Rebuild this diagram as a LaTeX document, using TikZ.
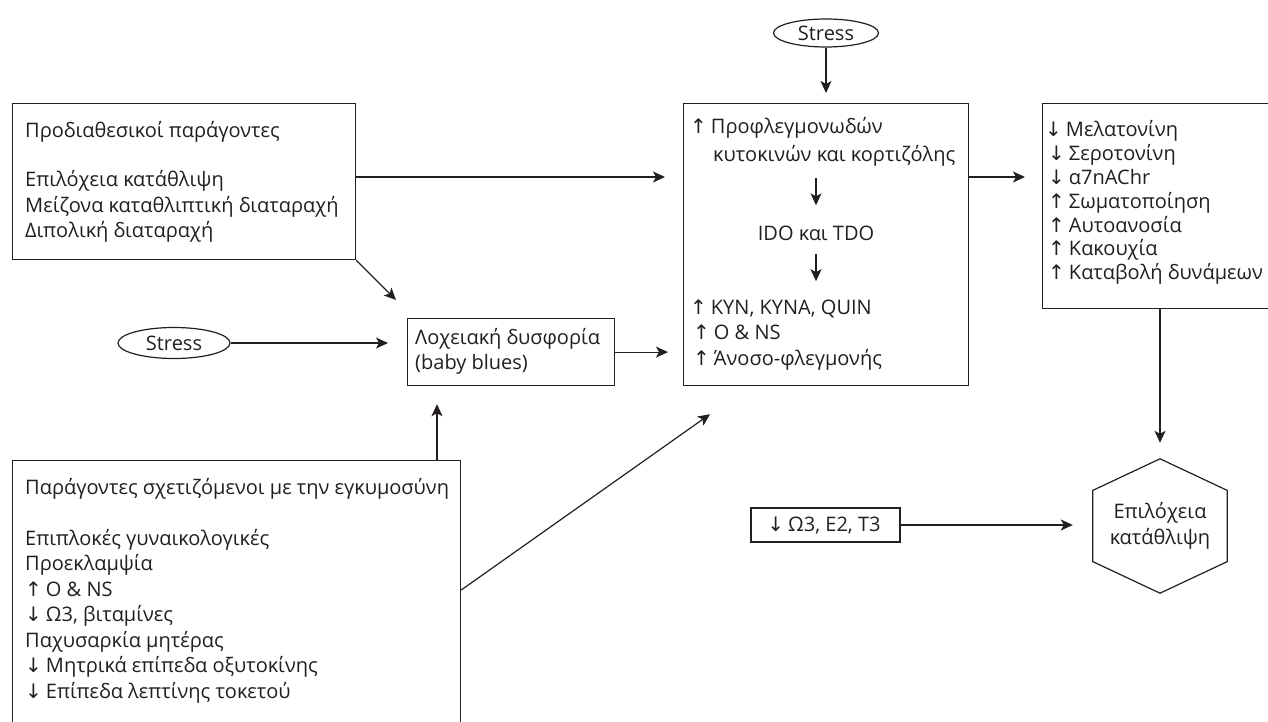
\documentclass[tikz,border=0pt]{standalone}
\usepackage{fontspec}
\setmainfont{Open Sans}
\newfontfamily\arrfont{DejaVu Sans}
\usetikzlibrary{arrows.meta,calc,shapes.geometric}
\definecolor{ink}{HTML}{231F20}
\newcommand\upa{\hspace{-3pt}{\arrfont ↑}\hspace{4pt}}
\newcommand\dna{\hspace{-3pt}{\arrfont ↓}\hspace{4pt}}
\newcommand\fsz{\fontsize{20}{25.5}\selectfont}
\begin{document}
\begin{tikzpicture}[x=1pt,y=-1pt,
  line/.style={draw=ink, line width=1.2pt},
  arr/.style={line, -{Stealth[length=12pt,width=11pt,inset=3pt]}},
  frame/.style={draw=ink, line width=1.2pt, rectangle, inner sep=0pt, anchor=north west},
  txt/.style={inner sep=0pt, anchor=base west, text=ink, font=\fsz},
  oval/.style={draw=ink, line width=1.2pt, ellipse, inner sep=0pt, font=\fsz, text=ink}]
\useasboundingbox (0,0) rectangle (1268,722);
\fill[white] (0,0) rectangle (1268,722);
\clip (0,0) rectangle (1268,722);

% boxes
\node[frame, minimum width=343pt, minimum height=156pt] (pred) at (12,103) {};
\node[txt] (predt) at (25,138) {\parbox[t]{330pt}{Προδιαθεσικοί παράγοντες\\[23.5pt]Επιλόχεια κατάθλιψη\\Μείζονα καταθλιπτική διαταραχή\\Διπολική διαταραχή}};

\node[frame, minimum width=448pt, minimum height=300pt] (preg) at (12,460) {};
\node[txt] (pregt) at (25,494) {\parbox[t]{440pt}{Παράγοντες σχετιζόμενοι με την εγκυμοσύνη\\[25.5pt]Επιπλοκές γυναικολογικές\\Προεκλαμψία\\\upa O \& NS\\\dna Ω3, βιταμίνες\\Παχυσαρκία μητέρας\\\dna Μητρικά επίπεδα οξυτοκίνης\\\dna Επίπεδα λεπτίνης τοκετού}};

\node[frame, minimum width=207pt, minimum height=67pt] (lox) at (407,318) {};
\node[txt] (loxt) at (415,344) {\parbox[t]{200pt}{Λοχειακή δυσφορία\\(baby blues)}};

\node[frame, minimum width=285pt, minimum height=282pt] (cen) at (683,103) {};
\node[txt] (cyta) at (693,134) {\upa Προφλεγμονωδών};
\node[txt] (cytb) at (713,162) {κυτοκινών και κορτιζόλης};
\node[txt, anchor=base] (ido) at (816,240) {IDO και TDO};
\node[txt] (kyn) at (693,314) {\parbox[t]{270pt}{\upa KYN, KYNA, QUIN\\\upa O \& NS\\\upa Άνοσο-φλεγμονής}};

\node[frame, minimum width=300pt, minimum height=205pt] (rbox) at (1042,103) {};
\node[txt] (rboxt) at (1048,137) {\parbox[t]{300pt}{\fontsize{20}{23.8}\selectfont\dna Μελατονίνη\\\dna Σεροτονίνη\\\dna α7nAChr\\\upa Σωματοποίηση\\\upa Αυτοανοσία\\\upa Κακουχία\\\upa Καταβολή δυνάμεων}};

\node[draw=ink, line width=1.2pt, minimum width=149pt, minimum height=34pt, inner sep=0pt, font=\fsz, text=ink] (om) at (825.5,525) {\dna Ω3, E2, T3};

\node[inner sep=0pt, minimum width=134pt, minimum height=134pt, align=center, font=\fsz, text=ink] (hex) at (1160,526) {Επιλόχεια\\κατάθλιψη};
\draw[line] (hex.north) -- ($(hex.north east)!0.235!(hex.south east)$) -- ($(hex.north east)!0.765!(hex.south east)$) -- (hex.south) -- ($(hex.north west)!0.765!(hex.south west)$) -- ($(hex.north west)!0.235!(hex.south west)$) -- cycle;

\node[oval, minimum width=112pt, minimum height=31pt] (st1) at (174,343) {Stress};
\node[oval, minimum width=105pt, minimum height=28pt] (st2) at (826,33) {Stress};

% connectors
\draw[arr] (st2.south) -- ($(st2.south |- cen.north)+(0,-10)$);
\draw[arr] ($(pred.north east)+(0,74)$) -- ($(pred.north east -| cen.west)+(-18,74)$);
\draw[arr] ($(cen.north east)+(0,74)$) -- ($(cen.north east -| rbox.west)+(-17,74)$);
\draw[arr] (pred.south east) -- ($(lox.north west)+(-11,-18)$);
\draw[arr] (st1.east) -- ($(st1.east -| lox.west)+(-19,0)$);
\draw[arr] (lox.east) -- ($(lox.east -| cen.west)+(-15,0)$);
\draw[arr] ($(lox.south west |- preg.north)+(30,0)$) -- ($(lox.south west)+(30,18)$);
\draw[arr] ($(preg.north east)+(0,130)$) -- ($(cen.south west)+(27,28)$);
\draw[arr] ($(cytb.south -| ido.north)+(0,11)$) -- ($(ido.north)+(0,-20)$);
\draw[arr] ($(ido.south)+(0,14)$) -- ($(kyn.north -| ido.south)+(0,-18)$);
\draw[arr] (rbox.south -| hex.north) -- ($(hex.north)+(0,-16)$);
\draw[arr] (om.east) -- ($(om.east -| hex.west)+(-20,0)$);
\end{tikzpicture}
\end{document}
